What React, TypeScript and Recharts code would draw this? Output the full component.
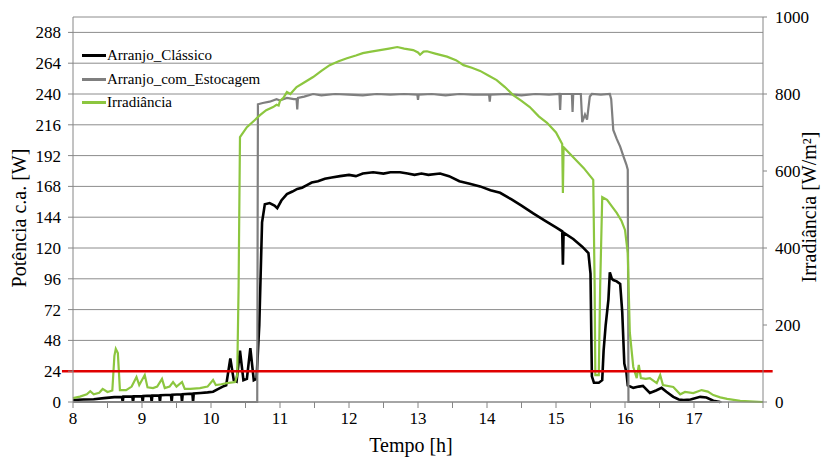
import React from "react"
import { LineChart, Line, XAxis, YAxis, CartesianGrid, ReferenceLine } from "recharts"

// Tempo [h] / Potência c.a. [W] - Arranjo_Clássico
const classicoT = [
  8.0, 8.15, 8.3, 8.45, 8.6, 8.71, 8.72, 8.73, 8.86, 8.87, 8.88, 9.0, 9.01, 9.02, 9.13, 9.14, 9.15,
  9.25, 9.26, 9.27, 9.42, 9.43, 9.44, 9.57, 9.58, 9.59, 9.73, 9.74, 9.75, 9.85, 9.95, 10.03, 10.1,
  10.17, 10.22, 10.28, 10.33, 10.37, 10.42, 10.47, 10.52, 10.57, 10.62, 10.66, 10.7, 10.74, 10.78,
  10.85, 10.92, 10.96, 11.02, 11.1, 11.18, 11.25, 11.32, 11.39, 11.46, 11.55, 11.65, 11.75, 11.87,
  12.0, 12.1, 12.2, 12.35, 12.5, 12.6, 12.74, 12.85, 12.95, 13.05, 13.15, 13.32, 13.45, 13.6, 13.75,
  13.9, 14.05, 14.19, 14.35, 14.5, 14.67, 14.85, 15.0, 15.09, 15.1, 15.11, 15.25, 15.38, 15.47, 15.5,
  15.52, 15.55, 15.62, 15.67, 15.69, 15.72, 15.76, 15.78, 15.81, 15.83, 15.88, 15.93, 15.96, 15.99,
  16.02, 16.04, 16.12, 16.2, 16.26, 16.36, 16.45, 16.53, 16.6, 16.7, 16.78, 16.85, 16.95, 17.09,
  17.18, 17.28, 17.38,
]
const classicoW = [
  1.5, 2, 2.2, 3, 3.8, 4, 0, 4.2, 4.3, 0, 4.4, 4.6, 0, 4.7, 4.9, 0, 5,
  5.2, 0, 5.3, 5.6, 0, 5.7, 6, 0, 6.1, 6.5, 0, 6.6, 7, 7.5, 8, 10,
  12, 13, 34, 17, 16, 40, 17, 18, 42, 17, 18, 60, 140, 154,
  155, 153, 151, 157, 162, 164, 166, 167, 169, 171, 172, 174, 175, 176,
  177, 176, 178, 179, 178, 179, 179, 178, 177, 178, 177, 178, 176, 172, 170,
  168, 165, 163, 158, 153, 147, 141, 136, 133, 107, 132, 127, 121, 116, 100,
  20, 15, 15, 17, 40, 60, 80, 101, 96, 95, 94, 92, 70, 30,
  23, 13, 11, 12, 12.5, 7, 9, 11, 8, 4, 2, 1.5, 2, 4,
  3.5, 1, 0,
]

// Arranjo_com_Estocagem
const estocagemT = [
  8.0, 10.67, 10.68, 10.75, 10.85, 10.95, 11.0, 11.1, 11.2, 11.24, 11.25, 11.26, 11.35, 11.48, 11.6,
  11.8, 12.0, 12.2, 12.4, 12.6, 12.8, 12.99, 13.0, 13.01, 13.2, 13.4, 13.6, 13.8, 14.03, 14.04, 14.05,
  14.3, 14.5, 14.7, 14.9, 15.05, 15.06, 15.07, 15.23, 15.24, 15.25, 15.36, 15.38, 15.42, 15.45, 15.49,
  15.52, 15.65, 15.78, 15.8, 15.83, 15.88, 15.93, 15.98, 16.02, 16.04, 16.05, 17.4,
]
const estocagemW = [
  0, 0, 232, 233, 234, 236, 235, 237, 236, 236, 228, 237, 238, 240, 239,
  240, 239.5, 239, 240, 239.5, 240, 239.5, 235.5, 239.5, 240, 239, 240, 239.5, 239.5, 234, 239.5,
  240, 239, 240, 239.5, 240, 227.5, 240, 240, 226, 240, 240, 218, 224, 220, 238,
  240, 239.5, 240, 236, 212, 205, 199, 191, 185, 181, 0, 0,
]

// Irradiância [W/m²]
const irradT = [
  8.0, 8.1, 8.2, 8.25, 8.3, 8.38, 8.43, 8.5, 8.57, 8.6, 8.62, 8.65, 8.68, 8.77, 8.85, 8.92, 8.96, 9.04,
  9.08, 9.16, 9.22, 9.29, 9.33, 9.4, 9.45, 9.5, 9.58, 9.62, 9.7, 9.84, 9.95, 10.03, 10.07, 10.15, 10.23,
  10.35, 10.38, 10.4, 10.42, 10.52, 10.62, 10.71, 10.8, 10.9, 10.95, 10.98, 11.0, 11.05, 11.1, 11.15,
  11.24, 11.35, 11.48, 11.6, 11.72, 11.85, 11.97, 12.1, 12.2, 12.32, 12.45, 12.58, 12.7, 12.8, 12.93,
  13.0, 13.03, 13.08, 13.13, 13.25, 13.42, 13.55, 13.66, 13.78, 13.9, 14.02, 14.14, 14.26, 14.38, 14.5,
  14.62, 14.75, 14.87, 15.0, 15.09, 15.1, 15.11, 15.25, 15.4, 15.54, 15.56, 15.57, 15.62, 15.64, 15.67,
  15.74, 15.81, 15.88, 15.95, 16.0, 16.04, 16.07, 16.12, 16.17, 16.2, 16.23, 16.3, 16.36, 16.46, 16.51,
  16.55, 16.7, 16.8, 16.87, 16.99, 17.11, 17.2, 17.28, 17.38, 17.48, 17.67, 18.0,
]
const irradV = [
  10, 14, 20, 28, 20, 24, 34, 26, 30, 120, 138, 127, 31, 31, 40, 65, 44, 70,
  38, 36, 40, 60, 36, 40, 52, 40, 52, 34, 34, 36, 40, 57, 44, 46, 49,
  52, 70, 300, 688, 714, 730, 745, 758, 766, 772, 770, 782, 790, 805, 800,
  818, 830, 844, 860, 875, 885, 893, 900, 906, 910, 914, 918, 922, 918, 914,
  908, 902, 910, 911, 905, 897, 888, 875, 868, 860, 848, 836, 818, 797, 782,
  766, 742, 725, 700, 670, 543, 662, 636, 608, 577, 300, 70, 70, 300, 532,
  525, 508, 491, 470, 447, 387, 180, 91, 62, 96, 62, 60, 62, 49, 70,
  44, 39, 20, 26, 23, 31, 27, 18, 12, 8, 3, 0,
]

const LIMITE_W = 24
const potenciaTicks = [0, 24, 48, 72, 96, 120, 144, 168, 192, 216, 240, 264, 288]
const irradTicks = [0, 200, 400, 600, 800, 1000]
const tempoTicks = [8, 8.5, 9, 9.5, 10, 10.5, 11, 11.5, 12, 12.5, 13, 13.5, 14, 14.5, 15, 15.5, 16, 16.5, 17, 17.5, 18]

const classico = classicoT.map((t, i) => ({ t, v: classicoW[i] }))
const estocagem = estocagemT.map((t, i) => ({ t, v: estocagemW[i] }))
const irradiancia = irradT.map((t, i) => ({ t, v: irradV[i] }))

const FONT = "Liberation Serif"
const AXIS = "#868686"

const legendItems = [
  { name: "Arranjo_Clássico", color: "#000000" },
  { name: "Arranjo_com_Estocagem", color: "#7f7f7f" },
  { name: "Irradiância", color: "#8cc63f" },
]

// serif tick labels
const XTick = ({ x, y, payload }: any) => {
  const v = payload.value
  if (!Number.isInteger(v) || v >= 18) return <g />
  return (
    <text x={x} y={y} dy="0.75em" textAnchor="middle" fontFamily={FONT} fontSize={17} fill="#000">
      {v}
    </text>
  )
}
const LeftTick = ({ x, y, payload }: any) => (
  <text x={x} y={y} dy="0.35em" textAnchor="end" fontFamily={FONT} fontSize={17} fill="#000">
    {payload.value}
  </text>
)
const RightTick = ({ x, y, payload }: any) => (
  <text x={x} y={y} dy="0.35em" textAnchor="start" fontFamily={FONT} fontSize={17} fill="#000">
    {payload.value}
  </text>
)

export default function App() {
  return (
    <div style={{ position: "absolute", left: 0, top: 0, width: 825, height: 463, background: "#fff", fontFamily: FONT }}>
      <LineChart width={825} height={463} margin={{ top: 17, right: 0, bottom: 0, left: 0 }}>
        <CartesianGrid yAxisId="left" vertical={false} stroke="#8c8c8c" strokeWidth={1} />
        <XAxis
          dataKey="t"
          type="number"
          domain={[8, 18]}
          ticks={tempoTicks}
          interval={0}
          height={61}
          stroke={AXIS}
          tickSize={6}
          tickMargin={3}
          tick={<XTick />}
          label={({ viewBox }: any) => (
            <text x={viewBox.x + viewBox.width / 2 - 7} y={452} textAnchor="middle" fontFamily={FONT} fontSize={20} fill="#000">
              Tempo [h]
            </text>
          )}
        />
        <YAxis
          yAxisId="left"
          type="number"
          domain={[0, 300]}
          ticks={potenciaTicks}
          interval={0}
          width={73}
          stroke={AXIS}
          tickSize={5}
          tickMargin={7}
          tick={<LeftTick />}
          label={() => (
            <text x={26} y={218} transform="rotate(-90 26 218)" textAnchor="middle" fontFamily={FONT} fontSize={20} fill="#000">
              Potência c.a. [W]
            </text>
          )}
        />
        <YAxis
          yAxisId="right"
          orientation="right"
          type="number"
          domain={[0, 1000]}
          ticks={irradTicks}
          interval={0}
          width={62}
          stroke={AXIS}
          tickSize={4}
          tickMargin={8}
          tick={<RightTick />}
          label={() => (
            <text x={816} y={207} transform="rotate(-90 816 207)" textAnchor="middle" fontFamily={FONT} fontSize={20} fill="#000">
              Irradiância [W/m²]
            </text>
          )}
        />
        <Line
          yAxisId="left"
          data={classico}
          dataKey="v"
          name="Arranjo_Clássico"
          type="linear"
          stroke="#000000"
          strokeWidth={2.6}
          dot={false}
          isAnimationActive={false}
        />
        <Line
          yAxisId="left"
          data={estocagem}
          dataKey="v"
          name="Arranjo_com_Estocagem"
          type="linear"
          stroke="#7f7f7f"
          strokeWidth={2.2}
          dot={false}
          isAnimationActive={false}
        />
        <Line
          yAxisId="right"
          data={irradiancia}
          dataKey="v"
          name="Irradiância"
          type="linear"
          stroke="#8cc63f"
          strokeWidth={2.2}
          dot={false}
          isAnimationActive={false}
        />
        <ReferenceLine
          yAxisId="left"
          segment={[
            { x: 7.84, y: LIMITE_W },
            { x: 18.14, y: LIMITE_W },
          ]}
          ifOverflow="visible"
          stroke="#e00000"
          strokeWidth={2.5}
        />
      </LineChart>

      {/* legend inside the plot, top-left */}
      <div style={{ position: "absolute", left: 82, top: 44, fontSize: 15, color: "#000", lineHeight: "23.5px" }}>
        {legendItems.map((it) => (
          <div key={it.name} style={{ display: "flex", alignItems: "center" }}>
            <span style={{ display: "inline-block", width: 24, height: 3, background: it.color, marginRight: 1 }} />
            <span>{it.name}</span>
          </div>
        ))}
      </div>
    </div>
  )
}
